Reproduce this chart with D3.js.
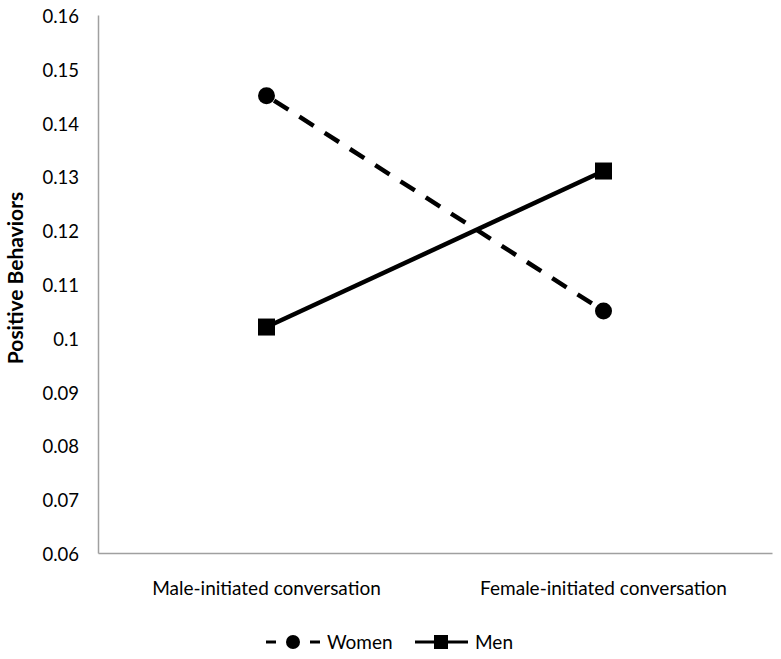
<!DOCTYPE html>
<html>
<head>
<meta charset="utf-8">
<script src="https://cdn.jsdelivr.net/npm/d3@7"></script>
<style>
  body { margin: 0; background: #fff; }
  svg { display: block; font-family: Lato, "Open Sans", sans-serif; }
</style>
</head>
<body>
<div id="chart"></div>
<script>
// data
const categories = ["Male-initiated conversation", "Female-initiated conversation"];
const women = [0.145, 0.105];
const men = [0.102, 0.131];
const yTicks = [0.06, 0.07, 0.08, 0.09, 0.1, 0.11, 0.12, 0.13, 0.14, 0.15, 0.16];

const W = 781, H = 659;
const margin = { top: 15, right: 9, bottom: 106, left: 98 };
const width = W - margin.left - margin.right;
const height = H - margin.top - margin.bottom;

const svg = d3.select('#chart').append('svg')
    .attr('width', W)
    .attr('height', H);

const g = svg.append('g')
    .attr('transform', `translate(${margin.left},${margin.top})`);

const x = d3.scaleBand()
    .domain(categories)
    .range([0, width]);

const y = d3.scaleLinear()
    .domain([0.06, 0.16])
    .range([height, 0]);

// y axis
const yAxis = g.append('g')
    .call(d3.axisLeft(y).tickValues(yTicks).tickSize(0).tickPadding(19)
        .tickFormat(d => String(+d.toFixed(2))));
yAxis.select('.domain').attr('stroke', '#a0a0a0').attr('stroke-width', 1.5);
yAxis.selectAll('text')
    .attr('font-size', 18.5)
    .attr('font-family', 'Lato, "Open Sans", sans-serif')
    .attr('fill', '#000')
    .attr('dy', '0.4em');

// x axis
const xAxis = g.append('g')
    .attr('transform', `translate(0,${height})`)
    .call(d3.axisBottom(x).tickSize(0).tickPadding(29));
xAxis.select('.domain').attr('stroke', '#a0a0a0').attr('stroke-width', 1.5);
xAxis.selectAll('text')
    .attr('font-size', 19)
    .attr('font-family', 'Lato, "Open Sans", sans-serif')
    .attr('fill', '#000');

// axis title
svg.append('text')
    .attr('transform', `translate(23,${margin.top + height / 2 - 6}) rotate(-90)`)
    .attr('text-anchor', 'middle')
    .attr('font-size', 21)
    .attr('font-weight', 'bold')
    .text('Positive Behaviors');

const cx = (d, i) => x(categories[i]) + x.bandwidth() / 2;
const line = d3.line().x(cx).y(d => y(d));

// women: dashed with circles
g.append('path')
    .datum(women)
    .attr('d', line)
    .attr('fill', 'none')
    .attr('stroke', '#000')
    .attr('stroke-width', 4.5)
    .attr('stroke-dasharray', '17,13')
    .attr('stroke-dashoffset', -9);

g.selectAll('.women-pt')
    .data(women)
    .join('circle')
    .attr('class', 'women-pt')
    .attr('cx', cx)
    .attr('cy', d => y(d))
    .attr('r', 8.5)
    .attr('fill', '#000');

// men: solid with squares
g.append('path')
    .datum(men)
    .attr('d', line)
    .attr('fill', 'none')
    .attr('stroke', '#000')
    .attr('stroke-width', 4.5);

g.selectAll('.men-pt')
    .data(men)
    .join('rect')
    .attr('class', 'men-pt')
    .attr('x', (d, i) => cx(d, i) - 8.5)
    .attr('y', d => y(d) - 8.5)
    .attr('width', 17)
    .attr('height', 17)
    .attr('fill', '#000');

// legend
const ly = 642;
const leg = svg.append('g');

const lw = leg.append('g').attr('transform', `translate(266,${ly})`);
lw.append('line').attr('x1', 0).attr('x2', 10).attr('stroke', '#000').attr('stroke-width', 3);
lw.append('line').attr('x1', 44).attr('x2', 54).attr('stroke', '#000').attr('stroke-width', 3);
lw.append('circle').attr('cx', 27).attr('cy', 0).attr('r', 7).attr('fill', '#000');
lw.append('text').attr('x', 61).attr('dy', '0.36em').attr('font-size', 19).text('Women');

const lm = leg.append('g').attr('transform', `translate(415,${ly})`);
lm.append('line').attr('x1', 0).attr('x2', 53).attr('stroke', '#000').attr('stroke-width', 3);
lm.append('rect').attr('x', 19).attr('y', -7).attr('width', 14).attr('height', 14).attr('fill', '#000');
lm.append('text').attr('x', 60).attr('dy', '0.36em').attr('font-size', 19).text('Men');
</script>
</body>
</html>
